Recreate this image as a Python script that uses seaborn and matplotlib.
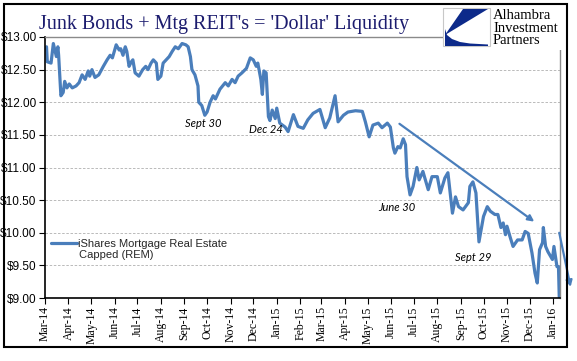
import matplotlib.pyplot as plt
import matplotlib.dates as mdates
import matplotlib.patches as mpatches
from matplotlib.ticker import FuncFormatter, MultipleLocator
import pandas as pd
import seaborn as sns

# REM daily close
dates = [
    "2014-03-03", "2014-03-04", "2014-03-09", "2014-03-12", "2014-03-16", "2014-03-18",
    "2014-03-19", "2014-03-22", "2014-03-25", "2014-03-27", "2014-03-30", "2014-04-02",
    "2014-04-06", "2014-04-11", "2014-04-15", "2014-04-19", "2014-04-23", "2014-04-27",
    "2014-04-29", "2014-05-02", "2014-05-06", "2014-05-11", "2014-05-17", "2014-05-22",
    "2014-05-26", "2014-05-29", "2014-06-03", "2014-06-07", "2014-06-09", "2014-06-12",
    "2014-06-15", "2014-06-17", "2014-06-20", "2014-06-23", "2014-06-25", "2014-06-28",
    "2014-07-03", "2014-07-08", "2014-07-12", "2014-07-15", "2014-07-19", "2014-07-22",
    "2014-07-26", "2014-07-28", "2014-08-01", "2014-08-04", "2014-08-08", "2014-08-12",
    "2014-08-16", "2014-08-20", "2014-08-24", "2014-08-29", "2014-09-03", "2014-09-06",
    "2014-09-09", "2014-09-11", "2014-09-15", "2014-09-19", "2014-09-20", "2014-09-24",
    "2014-09-28", "2014-10-01", "2014-10-05", "2014-10-09", "2014-10-12", "2014-10-18",
    "2014-10-25", "2014-10-29", "2014-11-03", "2014-11-07", "2014-11-11", "2014-11-16",
    "2014-11-22", "2014-11-27", "2014-12-01", "2014-12-05", "2014-12-07", "2014-12-11",
    "2014-12-13", "2014-12-15", "2014-12-18", "2014-12-21", "2014-12-23", "2014-12-26",
    "2014-12-30", "2015-01-01", "2015-01-05", "2015-01-12", "2015-01-16", "2015-01-23",
    "2015-01-29", "2015-02-05", "2015-02-11", "2015-02-18", "2015-02-27", "2015-03-06",
    "2015-03-12", "2015-03-19", "2015-03-23", "2015-03-30", "2015-04-05", "2015-04-15",
    "2015-04-24", "2015-04-28", "2015-05-03", "2015-05-08", "2015-05-15", "2015-05-20",
    "2015-05-27", "2015-05-31", "2015-06-04", "2015-06-06", "2015-06-10", "2015-06-13",
    "2015-06-17", "2015-06-20", "2015-06-22", "2015-06-26", "2015-06-30", "2015-07-05",
    "2015-07-08", "2015-07-13", "2015-07-20", "2015-07-25", "2015-08-01", "2015-08-05",
    "2015-08-11", "2015-08-15", "2015-08-21", "2015-08-25", "2015-08-29", "2015-09-04",
    "2015-09-11", "2015-09-13", "2015-09-17", "2015-09-21", "2015-09-25", "2015-10-01",
    "2015-10-06", "2015-10-10", "2015-10-16", "2015-10-20", "2015-10-24", "2015-10-27",
    "2015-10-30", "2015-11-01", "2015-11-05", "2015-11-09", "2015-11-15", "2015-11-21",
    "2015-11-25", "2015-11-29", "2015-12-04", "2015-12-08", "2015-12-11", "2015-12-14",
    "2015-12-18", "2015-12-19", "2015-12-22", "2015-12-25", "2015-12-31", "2016-01-02",
    "2016-01-06", "2016-01-08", "2016-01-09",
]
prices = [
    12.85, 12.62, 12.60, 12.90, 12.70, 12.85,
    12.72, 12.10, 12.15, 12.32, 12.22, 12.28,
    12.22, 12.25, 12.30, 12.42, 12.35, 12.48,
    12.40, 12.50, 12.38, 12.42, 12.55, 12.65,
    12.72, 12.68, 12.88, 12.80, 12.82, 12.72,
    12.85, 12.78, 12.55, 12.62, 12.65, 12.45,
    12.40, 12.50, 12.55, 12.50, 12.60, 12.65,
    12.60, 12.35, 12.40, 12.60, 12.65, 12.70,
    12.78, 12.85, 12.82, 12.90, 12.88, 12.85,
    12.70, 12.50, 12.42, 12.25, 12.00, 11.95,
    11.80, 11.85, 12.00, 12.10, 12.05, 12.20,
    12.30, 12.25, 12.35, 12.30, 12.40, 12.45,
    12.52, 12.68, 12.65, 12.55, 12.60, 12.35,
    12.12, 12.48, 12.45, 11.78, 11.72, 11.88,
    11.75, 11.91, 11.68, 11.62, 11.55, 11.81,
    11.63, 11.60, 11.73, 11.83, 11.89, 11.61,
    11.76, 12.10, 11.70, 11.80, 11.85, 11.87,
    11.86, 11.70, 11.47, 11.65, 11.68, 11.61,
    11.68, 11.62, 11.30, 11.22, 11.32, 11.30,
    11.44, 11.35, 10.86, 10.58, 10.71, 11.00,
    10.81, 10.94, 10.66, 10.86, 10.86, 10.61,
    10.84, 10.92, 10.30, 10.55, 10.40, 10.35,
    10.46, 10.71, 10.78, 10.61, 9.86, 10.25,
    10.40, 10.33, 10.28, 10.28, 10.08, 10.15,
    9.97, 10.10, 9.94, 9.79, 9.89, 9.89,
    10.02, 9.99, 9.69, 9.38, 9.23, 9.74,
    9.85, 10.08, 9.79, 9.71, 9.59, 9.79,
    9.48, 9.48, 9.02,
]

note_labels = ["Sept 30", "Dec 24", "June 30", "Sept 29"]
note_dates = ["2014-09-26", "2014-12-18", "2015-06-09", "2015-09-17"]
note_prices = [11.68, 11.59, 10.38, 9.62]

# trend arrows: (start date, start price, end date, end price)
arrow_start_dates = ["2015-06-12", "2016-01-09"]
arrow_start_prices = [11.67, 10.00]
arrow_end_dates = ["2015-12-07", "2016-01-24"]
arrow_end_prices = [10.17, 9.17]

BLUE = "#4a7ebb"
NAVY = "#1c1c6e"
LOGO_BLUE = "#0d2a8a"
W, H = 577, 361

sns.set_style("white")
plt.rcParams["font.family"] = ["Liberation Sans", "DejaVu Sans"]

df = pd.DataFrame({"date": pd.to_datetime(dates), "price": prices})

fig = plt.figure(figsize=(W / 100, H / 100), dpi=100)
ax = fig.add_axes([45 / W, 1 - 298 / H, (560 - 45) / W, (298 - 37) / H])

sns.lineplot(data=df, x="date", y="price", ax=ax, color=BLUE, linewidth=2.3,
             label="iShares Mortgage Real Estate")

ax.set_xlim(pd.Timestamp("2014-03-01"), pd.Timestamp("2016-01-10"))
ax.set_ylim(9.0, 13.0)
ax.set_xlabel("")
ax.set_ylabel("")

ax.yaxis.set_major_locator(MultipleLocator(0.5))
ax.yaxis.set_major_formatter(FuncFormatter(lambda v, _: f"\\${v:.2f}"))
ax.xaxis.set_major_locator(mdates.MonthLocator())
ax.xaxis.set_major_formatter(mdates.DateFormatter("%b-%y"))

ax.grid(axis="y", color="#b0b0b0", linestyle=(0, (3, 2)), linewidth=0.6)
ax.grid(axis="x", visible=False)
for side in ["left", "bottom"]:
    ax.spines[side].set_color("black")
    ax.spines[side].set_linewidth(1.2)
for side in ["top", "right"]:
    ax.spines[side].set_color("#8a8a8a")
    ax.spines[side].set_linewidth(1.0)

ax.tick_params(axis="y", which="major", direction="out", length=4, width=0.8,
               left=True, labelsize=8.5, pad=2, colors="black")
ax.tick_params(axis="x", which="major", direction="out", length=4, width=0.8,
               bottom=True, pad=2, colors="black")
for lbl in ax.get_xticklabels():
    lbl.set_rotation(90)
    lbl.set_fontfamily("Liberation Serif")
    lbl.set_fontsize(8.5)

leg = ax.legend(loc="upper left", bbox_to_anchor=(-0.004, 0.255), frameon=False,
                fontsize=8, handlelength=2.4, handletextpad=0.05, borderaxespad=0.3)
ax.text(0.066, 0.165, "Capped (REM)", transform=ax.transAxes, fontsize=8, va="center")

for lbl, d, p in zip(note_labels, note_dates, note_prices):
    ax.text(pd.Timestamp(d), p, lbl, fontsize=8, fontstyle="italic",
            fontfamily="Lato", ha="center", va="center", color="black")

for sd, sp, ed, ep in zip(arrow_start_dates, arrow_start_prices, arrow_end_dates, arrow_end_prices):
    ax.annotate("", xy=(pd.Timestamp(ed), ep), xytext=(pd.Timestamp(sd), sp),
                annotation_clip=False,
                arrowprops=dict(arrowstyle="-|>", color=BLUE, lw=1.6, mutation_scale=9,
                                shrinkA=0, shrinkB=0))

# title
fig.text(224 / W, 1 - 29 / H, "Junk Bonds + Mtg REIT's = 'Dollar' Liquidity",
         fontfamily="Liberation Serif", fontsize=14.5, color=NAVY,
         ha="center", va="baseline")


def px(x, y):
    return (x / W, 1 - y / H)


# logo block (white backing hides the top-right of the plot frame)
fig.add_artist(mpatches.Rectangle(px(443, 50), 123 / W, 44 / H, transform=fig.transFigure,
                                  facecolor="white", edgecolor="none", zorder=5))
fig.add_artist(mpatches.Rectangle(px(443, 46), 47 / W, 38 / H, transform=fig.transFigure,
                                  facecolor="white", edgecolor="#c8c8c8", lw=0.8, zorder=6))
wedge = [px(445, 35), px(463, 9), px(488, 9)]
sweep = [px(445, 29), px(447, 35), px(452, 39), px(460, 42), px(470, 43.5),
         px(488, 44.5), px(488, 46), px(445, 46)]
for pts in (wedge, sweep):
    fig.add_artist(mpatches.Polygon(pts, closed=True, transform=fig.transFigure,
                                    facecolor=LOGO_BLUE, edgecolor="none", zorder=7))
for word, base in zip(["Alhambra", "Investment", "Partners"], [19, 32, 44]):
    fig.text(493 / W, 1 - base / H, word, fontfamily="Liberation Serif", fontsize=10.5,
             color="black", ha="left", va="baseline", zorder=8)

# outer frame
fig.add_artist(mpatches.Rectangle(px(4, 347), 563 / W, 343 / H, transform=fig.transFigure,
                                  fill=False, edgecolor="black", lw=1.5, zorder=9))

fig.savefig("out.png", dpi=100)
